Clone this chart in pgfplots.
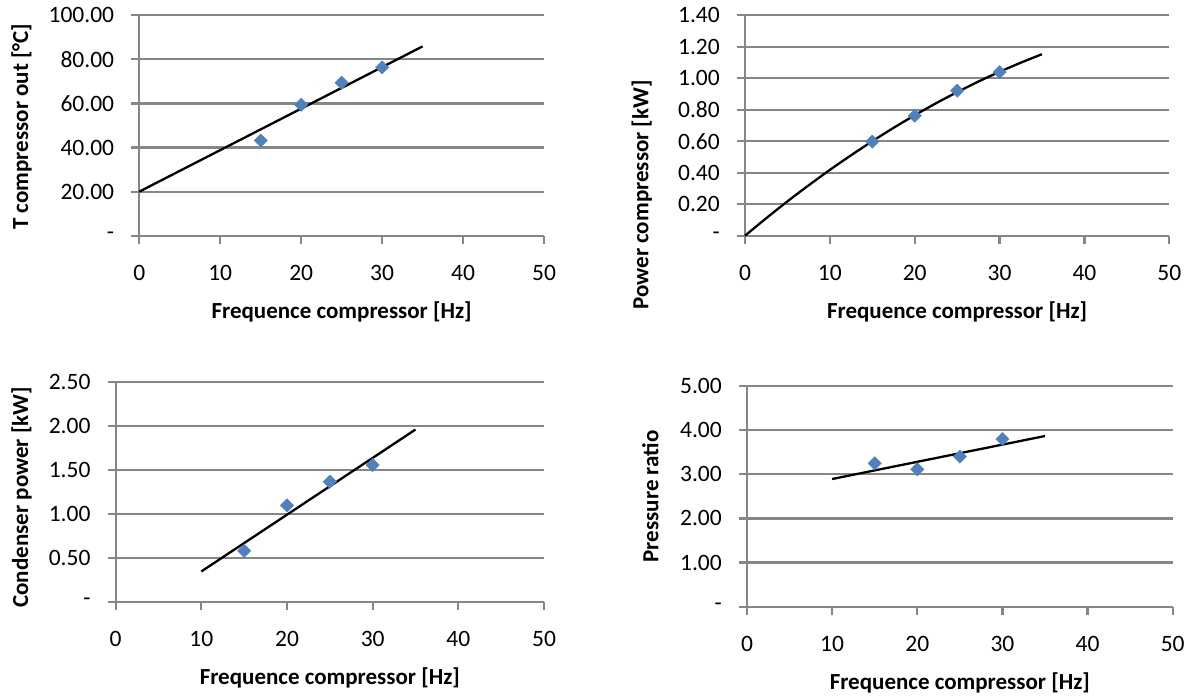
\documentclass[border=0pt]{standalone}
\usepackage{pgfplots}
\pgfplotsset{compat=1.18}
\usepackage{fontspec}
\setmainfont{Carlito}
\definecolor{gridgray}{HTML}{868686}
\definecolor{mblue}{HTML}{4F81BD}
\pgfplotsset{
  excel/.style={
    scale only axis, clip=false,
    xmin=0, xmax=50, xtick={0,10,20,30,40,50},
    axis x line*=bottom, axis y line*=left,
    axis line style={gridgray, line width=2.2pt, -},
    ymajorgrids, major grid style={gridgray, line width=2.2pt},
    tick align=outside, major tick length=8pt,
    every tick/.style={gridgray, line width=2.2pt},
    /pgf/number format/assume math mode=true,
    tick label style={font=\fontsize{23.5}{27}\selectfont, inner sep=0pt},
    xticklabel style={anchor=north, yshift=-21pt},
    yticklabel style={anchor=east, xshift=-17pt},
    label style={font=\fontsize{23}{27}\selectfont\bfseries},
    xlabel style={at={(axis description cs:0.5,0)}, anchor=center, yshift=-76.6pt},
    xlabel={Frequence compressor [Hz]},
  },
  mk/.style={only marks, mark=square*, mark size=4.7pt, mark options={rotate=45, fill=mblue, draw=mblue}},
  tl/.style={black, line width=2.3pt, no marks},
}
\begin{document}
\begin{tikzpicture}
\path[use as bounding box] (0pt,0pt) rectangle (1191pt,-698pt);
% Panel 1
\begin{axis}[excel, at={(139.3pt,-235.7pt)}, anchor=south west,
  width=404.7pt, height=220.4pt,
  ymin=0, ymax=100, ytick={0,20,40,60,80,100},
  yticklabels={{-\hspace{12pt}},20.00,40.00,60.00,80.00,100.00},
  ylabel={T compressor out [°C]},
  ylabel style={at={(axis description cs:-0.291,0.495)}, anchor=center}]
\addplot[tl] coordinates {(0,20) (35,85.9)};
\addplot[mk] coordinates {(15,43.2) (20,59.4) (25,69.4) (30,76.4)};
\end{axis}
% Panel 2
\begin{axis}[excel, at={(745pt,-235.7pt)}, anchor=south west,
  width=424.3pt, height=220.4pt,
  ymin=0, ymax=1.4, ytick={0,0.2,0.4,0.6,0.8,1.0,1.2,1.4},
  yticklabels={{-\hspace{12pt}},0.20,0.40,0.60,0.80,1.00,1.20,1.40},
  ylabel={Power compressor [kW]},
  ylabel style={at={(axis description cs:-0.2435,0.185)}, anchor=center}]
\addplot[tl, smooth] coordinates {(0,0) (2.5,0.111) (5,0.218) (7.5,0.320) (10,0.418) (12.5,0.511) (15,0.600) (17.5,0.685) (20,0.765) (22.5,0.841) (25,0.912) (27.5,0.979) (30,1.041) (32.5,1.099) (35,1.153)};
\addplot[mk] coordinates {(15,0.598) (20,0.762) (25,0.921) (30,1.039)};
\end{axis}
% Panel 3
\begin{axis}[excel, at={(115.7pt,-601.7pt)}, anchor=south west,
  width=428.3pt, height=219.4pt,
  ymin=0, ymax=2.5, ytick={0,0.5,1.0,1.5,2.0,2.5},
  yticklabels={{-\hspace{12pt}},0.50,1.00,1.50,2.00,2.50},
  ylabel={Condenser power [kW]},
  ylabel style={at={(axis description cs:-0.22,0.476)}, anchor=center}]
\addplot[tl] coordinates {(10,0.345) (35,1.962)};
\addplot[mk] coordinates {(15,0.580) (20,1.098) (25,1.367) (30,1.557)};
\end{axis}
% Panel 4
\begin{axis}[excel, at={(747pt,-606.7pt)}, anchor=south west,
  width=425.7pt, height=220.7pt,
  ymin=0, ymax=5, ytick={0,1,2,3,4,5},
  yticklabels={{-\hspace{12pt}},1.00,2.00,3.00,4.00,5.00},
  ylabel={Pressure ratio},
  ylabel style={at={(axis description cs:-0.227,0.5)}, anchor=center}]
\addplot[tl] coordinates {(10,2.893) (35,3.867)};
\addplot[mk] coordinates {(15,3.248) (20,3.112) (25,3.399) (30,3.799)};
\end{axis}
\end{tikzpicture}
\end{document}
